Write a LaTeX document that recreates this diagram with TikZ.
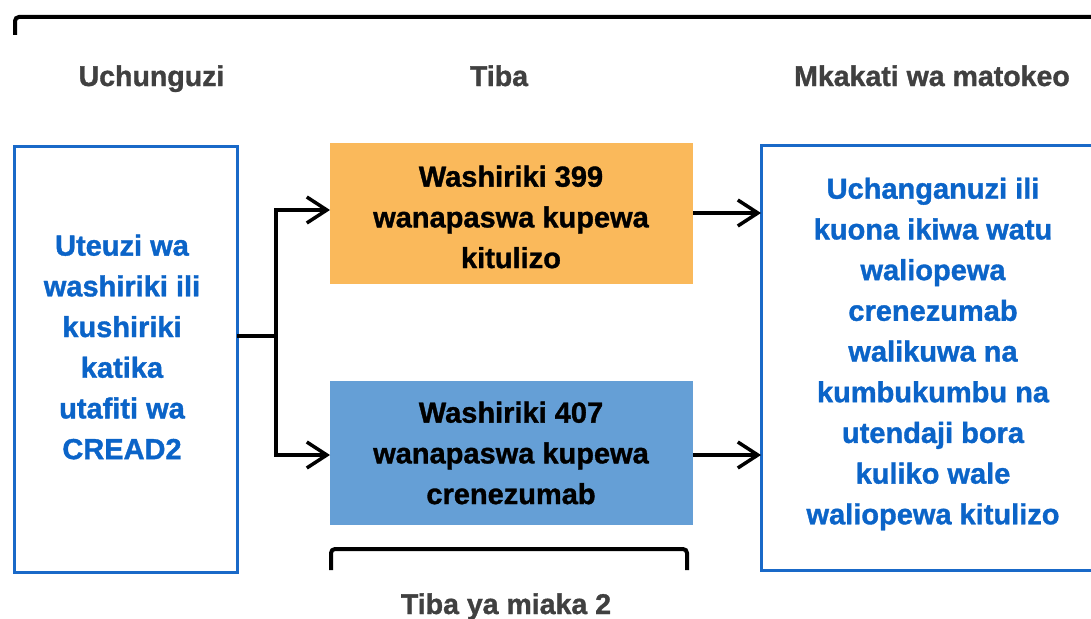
\documentclass[tikz,border=0pt]{standalone}
\usepackage{fontspec}
\setmainfont[BoldFeatures={FakeBold=1.2}]{Liberation Sans}
\usetikzlibrary{arrows.meta}
\definecolor{hdgray}{RGB}{64,64,64}
\definecolor{tblue}{RGB}{11,100,200}
\definecolor{bblue}{RGB}{25,105,200}
\definecolor{orangefill}{RGB}{250,185,91}
\definecolor{bluefill}{RGB}{101,159,214}
\tikzset{
  heading/.style={font=\bfseries\fontsize{28.5}{32}\selectfont, text=hdgray, anchor=base},
  bodytext/.style={font=\bfseries\fontsize{29}{40.7}\selectfont, align=center},
  outlinebox/.style={draw=bblue, line width=3pt, fill=white},
  conn/.style={line width=3.5pt, black},
  arr/.style={conn, -{Straight Barb[length=20pt,width=26pt,line width=3.5pt]}},
  bracket/.style={line width=4pt, black, rounded corners=4pt},
}
\begin{document}
\begin{tikzpicture}[x=1pt,y=-1pt]
\useasboundingbox (0,0) rectangle (1091,618);
\clip (0,0) rectangle (1091,618);
\fill[white] (0,0) rectangle (1091,618);
% top bracket
\draw[bracket] (15,35) -- (15,17) -- (1100,17);
% headings
\node[heading] (h1) at (151.5,86) {Uchunguzi};
\node[heading] (h2) at (499,86) {Tiba};
\node[heading] (h3) at (932,86) {Mkakati wa matokeo};
% boxes
\draw[outlinebox] (14,146) rectangle (237,572);
\coordinate (leftR) at (237,336);
\node[bodytext, text=tblue] (lt) at (122,347) {Uteuzi wa\\washiriki ili\\kushiriki\\katika\\utafiti wa\\CREAD2};
\fill[orangefill] (330,143) rectangle (693,284);
\node[bodytext] (ot) at (511,217) {Washiriki 399\\wanapaswa kupewa\\kitulizo};
\fill[bluefill] (330,381) rectangle (693,525);
\node[bodytext] (bt) at (511,453) {Washiriki 407\\wanapaswa kupewa\\crenezumab};
\draw[outlinebox] (761,145) rectangle (1105,570);
\node[bodytext, text=tblue] (rt) at (933,354) {Uchanganuzi ili\\kuona ikiwa watu\\waliopewa\\crenezumab\\walikuwa na\\kumbukumbu na\\utendaji bora\\kuliko wale\\waliopewa kitulizo};
% connectors
\coordinate (split) at (276,336);
\coordinate (oL) at (330,210);
\coordinate (bL) at (330,455);
\coordinate (oR) at (693,213);
\coordinate (bR) at (693,455);
\coordinate (rL1) at (761,213);
\coordinate (rL2) at (761,455);
\draw[conn] (leftR) -- (split);
\draw[arr] (split) |- (oL);
\draw[arr] (split) |- (bL);
\draw[arr] (oR) -- (rL1);
\draw[arr] (bR) -- (rL2);
% bottom bracket
\draw[bracket] (331,570) -- (331,549) -- (687,549) -- (687,570);
\node[heading] (h4) at (506,614) {Tiba ya miaka 2};
\end{tikzpicture}
\end{document}
